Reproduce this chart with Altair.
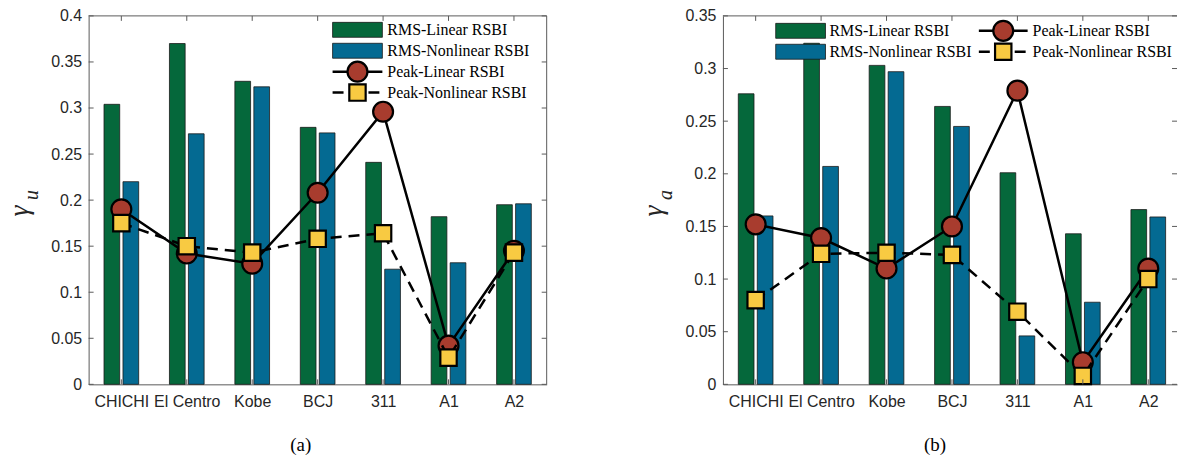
import json

import altair as alt
import pandas as pd

# Ground motions on the x axis
categories = ["CHICHI", "El Centro", "Kobe", "BCJ", "311", "A1", "A2"]
series = ["RMS-Linear RSBI", "RMS-Nonlinear RSBI", "Peak-Linear RSBI", "Peak-Nonlinear RSBI"]

# (a) displacement ratio gamma_u
rms_linear_u = [0.304, 0.370, 0.329, 0.279, 0.241, 0.182, 0.195]
rms_nonlinear_u = [0.220, 0.272, 0.323, 0.273, 0.125, 0.132, 0.196]
peak_linear_u = [0.190, 0.142, 0.131, 0.208, 0.296, 0.042, 0.145]
peak_nonlinear_u = [0.175, 0.150, 0.143, 0.158, 0.164, 0.029, 0.143]
ticks_u = [0, 0.05, 0.1, 0.15, 0.2, 0.25, 0.3, 0.35, 0.4]

# (b) acceleration ratio gamma_a
rms_linear_a = [0.276, 0.324, 0.303, 0.264, 0.201, 0.143, 0.166]
rms_nonlinear_a = [0.160, 0.207, 0.297, 0.245, 0.046, 0.078, 0.159]
peak_linear_a = [0.152, 0.139, 0.110, 0.150, 0.279, 0.021, 0.110]
peak_nonlinear_a = [0.080, 0.124, 0.125, 0.123, 0.069, 0.008, 0.100]
ticks_a = [0, 0.05, 0.1, 0.15, 0.2, 0.25, 0.3, 0.35]

GREEN = "#05683b"
BLUE = "#046a92"
RED = "#a83c2e"
YELLOW = "#f8ca42"
EDGE = "#1a1a1a"
AXIS = "#5a5a5a"
INK = "#262626"
SANS = "Liberation Sans"
SERIF = "Liberation Serif"

PLOT_H = 370
PX_PER_CAT = 460 / 7
TICK_LEN = 5
DASH = [11, 7]


def tiny(label=""):
    return pd.DataFrame({"label": [label]})


def legend_text(label, tx, yc):
    return alt.Chart(tiny(label)).mark_text(
        align="left", baseline="middle", font=SERIF, fontSize=16, color="black"
    ).encode(x=alt.value(tx), y=alt.value(yc), text="label:N")


def legend_bar(label, color, x0, x1, yc, tx):
    swatch = alt.Chart(tiny(label)).mark_rect(fill=color, stroke=EDGE, strokeWidth=0.8).encode(
        x=alt.value(x0), x2=alt.value(x1), y=alt.value(yc - 7.5), y2=alt.value(yc + 7.5)
    )
    return [swatch, legend_text(label, tx, yc)]


def legend_line(label, shape, fill, size, x0, x1, yc, tx, dash=None):
    d = tiny(label)
    rule_kw = dict(color="black", strokeWidth=2.5)
    if dash:
        rule_kw["strokeDash"] = dash
    rule = alt.Chart(d).mark_rule(**rule_kw).encode(
        x=alt.value(x0), x2=alt.value(x1), y=alt.value(yc)
    )
    marker = alt.Chart(d).mark_point(
        shape=shape, filled=True, fill=fill, stroke="black", strokeWidth=2.2,
        size=size, opacity=1,
    ).encode(x=alt.value((x0 + x1) / 2), y=alt.value(yc))
    return [rule, marker, legend_text(label, tx, yc)]


def panel(rms_lin, rms_non, pk_lin, pk_non, yticks, width, sub, caption,
          legend, right_box=True):
    idx = list(range(1, len(categories) + 1))
    df = pd.DataFrame({
        "idx": idx, "cat": categories,
        "rms_lin": rms_lin, "rms_non": rms_non, "pk_lin": pk_lin, "pk_non": pk_non,
    })
    x_scale = alt.Scale(domain=[0.5, 0.5 + width / PX_PER_CAT], nice=False, zero=False)
    y_scale = alt.Scale(domain=[0, yticks[-1]], nice=False)
    names = json.dumps(categories)
    x_axis = alt.Axis(
        values=idx, labelExpr=f"{names}[datum.value - 1]", title=None,
        ticks=False, tickSize=0, grid=False, domainColor=AXIS, domainWidth=1,
        labelFont=SANS, labelFontSize=16, labelColor=INK, labelPadding=9,
        labelOverlap=False, labelFlush=False,
    )
    y_axis = alt.Axis(
        values=yticks, format=".2~f", title=None,
        ticks=False, tickSize=0, grid=False, domainColor=AXIS, domainWidth=1,
        labelFont=SANS, labelFontSize=16, labelColor=INK, labelPadding=7,
        labelOverlap=False, labelFlush=False,
    )

    def X(field):
        return alt.X(field, type="quantitative", scale=x_scale, axis=x_axis)

    def Y(field):
        return alt.Y(field, type="quantitative", scale=y_scale, axis=y_axis)

    base = alt.Chart(df)
    bars_lin = base.transform_calculate(
        b0="datum.idx - 0.265", b1="datum.idx - 0.025"
    ).mark_rect(fill=GREEN, stroke=EDGE, strokeWidth=0.8).encode(
        x=X("b0"), x2="b1:Q", y=Y("rms_lin"), y2=alt.datum(0)
    )
    bars_non = base.transform_calculate(
        b0="datum.idx + 0.025", b1="datum.idx + 0.265"
    ).mark_rect(fill=BLUE, stroke=EDGE, strokeWidth=0.8).encode(
        x=X("b0"), x2="b1:Q", y=Y("rms_non"), y2=alt.datum(0)
    )
    line_lin = base.mark_line(color="black", strokeWidth=2.5).encode(
        x=X("idx"), y=Y("pk_lin")
    )
    dots_lin = base.mark_point(
        shape="circle", filled=True, fill=RED, stroke="black", strokeWidth=2.2,
        size=400, opacity=1,
    ).encode(x=X("idx"), y=Y("pk_lin"))
    line_non = base.mark_line(color="black", strokeWidth=2.5, strokeDash=DASH).encode(
        x=X("idx"), y=Y("pk_non")
    )
    dots_non = base.mark_point(
        shape="square", filled=True, fill=YELLOW, stroke="black", strokeWidth=2.2,
        size=270, opacity=1,
    ).encode(x=X("idx"), y=Y("pk_non"))

    # box and inward ticks
    yt = pd.DataFrame({"t": yticks})
    box = [
        alt.Chart(tiny()).mark_rule(color=AXIS, strokeWidth=1).encode(
            x=alt.value(0), x2=alt.value(width), y=alt.value(0)
        ),
        alt.Chart(yt).mark_rule(color=AXIS, strokeWidth=1).encode(
            y=Y("t"), x=alt.value(0), x2=alt.value(TICK_LEN)
        ),
        alt.Chart(yt).mark_rule(color=AXIS, strokeWidth=1).encode(
            y=Y("t"), x=alt.value(width - TICK_LEN), x2=alt.value(width)
        ),
        base.mark_rule(color=AXIS, strokeWidth=1).encode(
            x=X("idx"), y=alt.value(0), y2=alt.value(TICK_LEN)
        ),
        base.mark_rule(color=AXIS, strokeWidth=1).encode(
            x=X("idx"), y=alt.value(PLOT_H - TICK_LEN), y2=alt.value(PLOT_H)
        ),
    ]
    if right_box:
        box.append(
            alt.Chart(tiny()).mark_rule(color=AXIS, strokeWidth=1).encode(
                x=alt.value(width), y=alt.value(0), y2=alt.value(PLOT_H)
            )
        )

    # y-axis symbol with subscript, and the panel caption
    ylab = [
        alt.Chart(tiny("γ")).mark_text(
            font=SERIF, fontStyle="italic", fontSize=28, angle=270,
            align="center", baseline="middle", color=INK,
        ).encode(x=alt.value(-69), y=alt.value(196), text="label:N"),
        alt.Chart(tiny(sub)).mark_text(
            font=SERIF, fontStyle="italic", fontSize=20, angle=270,
            align="center", baseline="middle", color=INK,
        ).encode(x=alt.value(-57), y=alt.value(180), text="label:N"),
        alt.Chart(tiny(caption)).mark_text(
            font=SERIF, fontSize=19, align="center", baseline="middle", color="black",
        ).encode(x=alt.value(213), y=alt.value(431), text="label:N"),
    ]

    layers = [bars_lin, bars_non, line_lin, dots_lin, line_non, dots_non] + box + ylab + legend
    return alt.layer(*layers).properties(width=width, height=PLOT_H)


legend_a = (
    legend_bar(series[0], GREEN, 245, 295, 14, 300)
    + legend_bar(series[1], BLUE, 245, 295, 35, 300)
    + legend_line(series[2], "circle", RED, 400, 245, 295, 56, 300)
    + legend_line(series[3], "square", YELLOW, 270, 245, 295, 77, 300, dash=DASH)
)
legend_b = (
    legend_bar(series[0], GREEN, 53, 103, 15, 107)
    + legend_bar(series[1], BLUE, 53, 103, 36, 107)
    + legend_line(series[2], "circle", RED, 400, 257, 306, 15, 311)
    + legend_line(series[3], "square", YELLOW, 270, 257, 306, 36, 311, dash=DASH)
)

panel_a = panel(rms_linear_u, rms_nonlinear_u, peak_linear_u, peak_nonlinear_u,
                ticks_u, 460, "u", "(a)", legend_a, right_box=True)
panel_b = panel(rms_linear_a, rms_nonlinear_a, peak_linear_a, peak_nonlinear_a,
                ticks_a, 456, "a", "(b)", legend_b, right_box=False)

chart = (
    alt.hconcat(panel_a, panel_b, spacing=93)
    .properties(padding={"left": 6, "top": 7, "right": 0, "bottom": 0})
    .configure_view(stroke=None)
)

chart.save("out.html", embed_options={"renderer": "svg", "actions": False})
